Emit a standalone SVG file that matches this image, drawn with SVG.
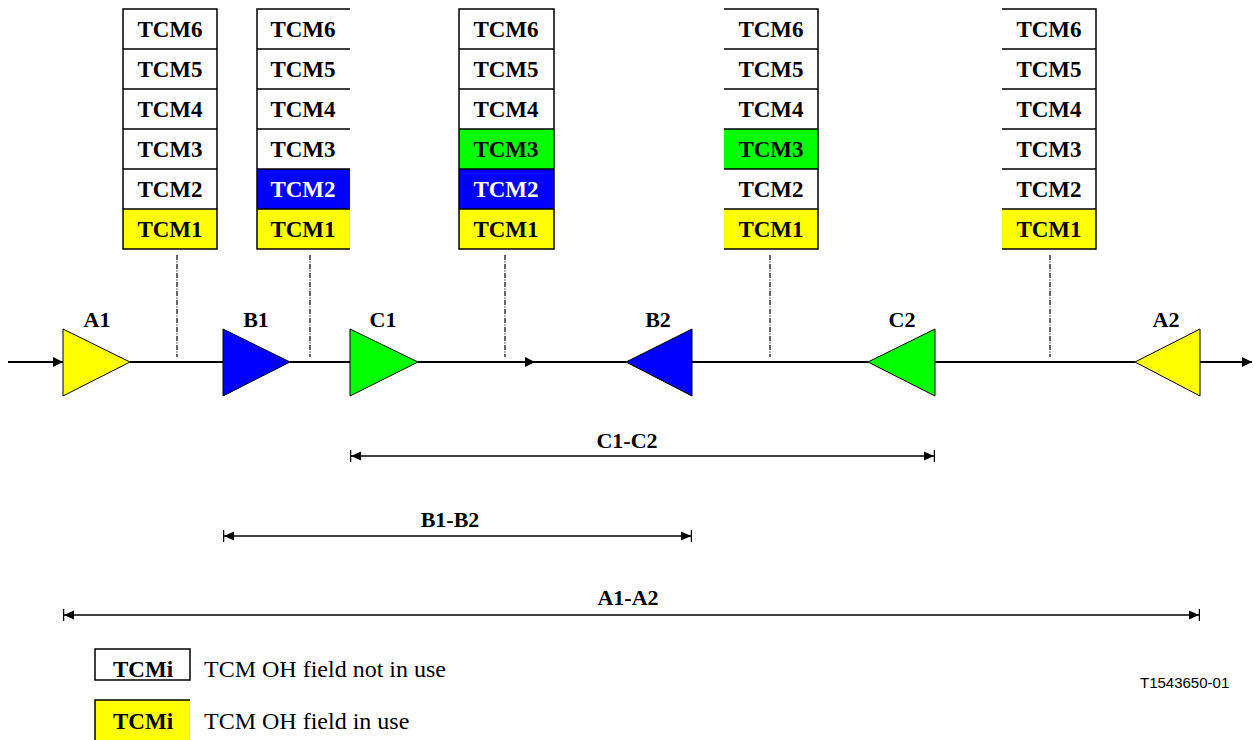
<svg xmlns="http://www.w3.org/2000/svg" width="1254" height="740" viewBox="0 0 1254 740">
<style>
.b{font-family:"Liberation Serif","Times New Roman",serif;font-weight:bold;font-size:22px;text-anchor:middle;fill:#000}
.t{font-family:"Liberation Serif","Times New Roman",serif;font-weight:bold;font-size:23px;text-anchor:middle;fill:#000}
.r{font-family:"Liberation Serif","Times New Roman",serif;font-size:24px;fill:#000}
.w{fill:#fff}.y{fill:#ffff00}.bl{fill:#0000ff}.g{fill:#00ff00}
.ln{stroke:#000;stroke-width:1.5;fill:none}
.dd{stroke:#000;stroke-width:1.2;stroke-dasharray:5 1.5 1 1.5;fill:none}
.tri{stroke:#000;stroke-width:1}
.main{stroke:#000;stroke-width:2;fill:none}
.dim{stroke:#000;stroke-width:1.5;fill:none}
</style>
<defs>
<marker id="ah" viewBox="0 0 10 10" refX="10" refY="5" markerWidth="11" markerHeight="10" markerUnits="userSpaceOnUse" orient="auto"><path d="M0,0 L10,5 L0,10 Z" fill="#000"/></marker>
<marker id="dh" viewBox="0 0 12 12" refX="12" refY="6" markerWidth="12" markerHeight="12" markerUnits="userSpaceOnUse" orient="auto-start-reverse"><path d="M1,1.5 L11,6 L1,10.5 Z" fill="#000"/><path d="M11.5,0 V12" stroke="#000" stroke-width="1.5"/></marker>
</defs>

<g id="stack1">
<rect x="123" y="9" width="94" height="40" class="w"/><rect x="123" y="49" width="94" height="40" class="w"/><rect x="123" y="89" width="94" height="40" class="w"/><rect x="123" y="129" width="94" height="40" class="w"/><rect x="123" y="169" width="94" height="40" class="w"/><rect x="123" y="209" width="94" height="40" class="y"/>
<path class="ln" d="M123,9 H217 V249 H123 Z M123,49 H217 M123,89 H217 M123,129 H217 M123,169 H217 M123,209 H217"/>
<text class="t" x="170" y="37">TCM6</text><text class="t" x="170" y="77">TCM5</text><text class="t" x="170" y="117">TCM4</text><text class="t" x="170" y="157">TCM3</text><text class="t" x="170" y="197">TCM2</text><text class="t" x="170" y="237">TCM1</text>
</g>

<g id="stack2">
<rect x="257" y="169" width="93" height="40" class="bl"/><rect x="257" y="209" width="93" height="40" class="y"/>
<path class="ln" d="M350,9 H257 V249 H350 M257,49 H350 M257,89 H350 M257,129 H350 M257,169 H350 M257,209 H350"/>
<text class="t" x="303" y="37">TCM6</text><text class="t" x="303" y="77">TCM5</text><text class="t" x="303" y="117">TCM4</text><text class="t" x="303" y="157">TCM3</text><text class="t" x="303" y="197" style="fill:#fff">TCM2</text><text class="t" x="303" y="237">TCM1</text>
</g>

<g id="stack3">
<rect x="459" y="129" width="95" height="40" class="g"/><rect x="459" y="169" width="95" height="40" class="bl"/><rect x="459" y="209" width="95" height="40" class="y"/>
<path class="ln" d="M459,9 H554 V249 H459 Z M459,49 H554 M459,89 H554 M459,129 H554 M459,169 H554 M459,209 H554"/>
<text class="t" x="506" y="37">TCM6</text><text class="t" x="506" y="77">TCM5</text><text class="t" x="506" y="117">TCM4</text><text class="t" x="506" y="157">TCM3</text><text class="t" x="506" y="197" style="fill:#fff">TCM2</text><text class="t" x="506" y="237">TCM1</text>
</g>

<g id="stack4">
<rect x="724" y="129" width="94" height="40" class="g"/><rect x="724" y="209" width="94" height="40" class="y"/>
<path class="ln" d="M724,9 H818 V249 H724 M724,49 H818 M724,89 H818 M724,129 H818 M724,169 H818 M724,209 H818"/>
<text class="t" x="771" y="37">TCM6</text><text class="t" x="771" y="77">TCM5</text><text class="t" x="771" y="117">TCM4</text><text class="t" x="771" y="157">TCM3</text><text class="t" x="771" y="197">TCM2</text><text class="t" x="771" y="237">TCM1</text>
</g>

<g id="stack5">
<rect x="1002" y="209" width="94" height="40" class="y"/>
<path class="ln" d="M1002,9 H1096 V249 H1002 M1002,49 H1096 M1002,89 H1096 M1002,129 H1096 M1002,169 H1096 M1002,209 H1096"/>
<text class="t" x="1049" y="37">TCM6</text><text class="t" x="1049" y="77">TCM5</text><text class="t" x="1049" y="117">TCM4</text><text class="t" x="1049" y="157">TCM3</text><text class="t" x="1049" y="197">TCM2</text><text class="t" x="1049" y="237">TCM1</text>
</g>

<g id="connectors">
<path class="dd" d="M177,255 V357 M310,255 V357 M505,255 V357 M770,255 V357 M1050,255 V357"/>
<path class="main" d="M8,362 H63" marker-end="url(#ah)"/>
<path class="main" d="M130,362 H223"/>
<path class="main" d="M290,362 H350"/>
<path class="main" d="M418,362 H535" marker-end="url(#ah)"/>
<path class="main" d="M535,362 H626"/>
<path class="main" d="M692,362 H868"/>
<path class="main" d="M935,362 H1135"/>
<path class="main" d="M1200,362 H1252" marker-end="url(#ah)"/>
<path class="dim" d="M350,456 H935" marker-start="url(#dh)" marker-end="url(#dh)"/>
<path class="dim" d="M223,536 H692" marker-start="url(#dh)" marker-end="url(#dh)"/>
<path class="dim" d="M63,615 H1200" marker-start="url(#dh)" marker-end="url(#dh)"/>
</g>

<g id="A1"><polygon class="tri y" points="63,329 130,362 63,396"/><text class="b" x="97" y="327">A1</text></g>
<g id="B1"><polygon class="tri bl" points="223,329 290,362 223,396"/><text class="b" x="256" y="327">B1</text></g>
<g id="C1"><polygon class="tri g" points="350,329 418,362 350,396"/><text class="b" x="383" y="327">C1</text></g>
<g id="B2"><polygon class="tri bl" points="692,329 626,362 692,396"/><text class="b" x="658" y="327">B2</text></g>
<g id="C2"><polygon class="tri g" points="935,329 868,362 935,396"/><text class="b" x="902" y="327">C2</text></g>
<g id="A2"><polygon class="tri y" points="1200,329 1135,362 1200,396"/><text class="b" x="1166" y="327">A2</text></g>

<g id="labels">
<text class="b" x="627" y="448">C1-C2</text>
<text class="b" x="450" y="527">B1-B2</text>
<text class="b" x="628" y="605">A1-A2</text>
</g>

<g id="legend">
<rect x="95" y="649" width="95" height="31" fill="#fff" class="ln"/>
<text class="t" x="143" y="677">TCMi</text>
<text class="r" x="204" y="677">TCM OH field not in use</text>
<rect x="95" y="700" width="95" height="40" class="y"/>
<path class="ln" d="M190,700 H95 V740"/>
<text class="t" x="143" y="729">TCMi</text>
<text class="r" x="204" y="729">TCM OH field in use</text>
<text x="1140" y="688" style="font-family:'Liberation Sans',Arial,sans-serif;font-size:15px;fill:#000">T1543650-01</text>
</g>
</svg>
